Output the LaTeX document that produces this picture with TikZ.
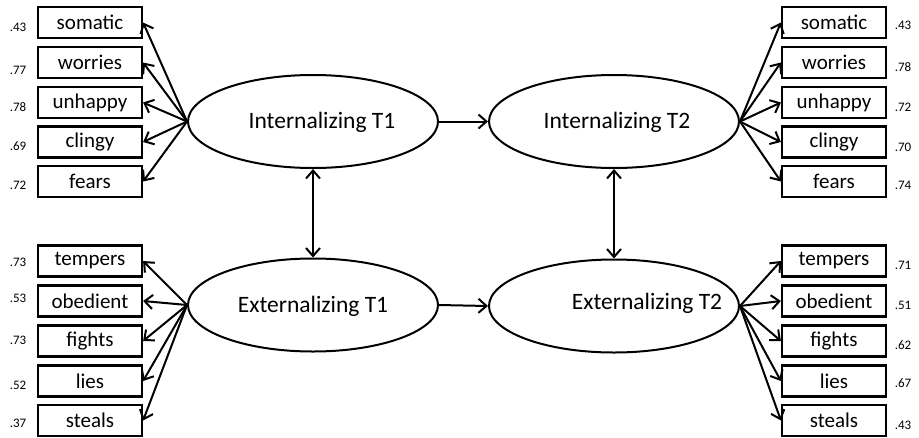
\documentclass[tikz,border=0pt]{standalone}
\usepackage{fontspec}
\setmainfont{Carlito}
\usetikzlibrary{shapes.geometric,arrows.meta}
\begin{document}
\begin{tikzpicture}[x=1pt,y=-1pt,
  ind/.style={draw, line width=2.2pt, minimum width=104pt, minimum height=31pt, inner sep=0pt, font=\fontsize{21}{24}\selectfont},
  lat/.style={draw, ellipse, line width=2pt, minimum width=250pt, minimum height=93pt, inner sep=0pt},
  lattext/.style={font=\fontsize{23.5}{27}\selectfont, inner sep=0pt},
  num/.style={font=\fontsize{13}{15}\selectfont, inner sep=0pt},
  arr/.style={line width=2pt, -{Straight Barb[length=8pt,width=14pt,line width=2pt]}},
  darr/.style={line width=2pt, {Straight Barb[length=8pt,width=14pt,line width=2pt]}-{Straight Barb[length=8pt,width=14pt,line width=2pt]}}]
\useasboundingbox (0,0) rectangle (919,437);
% latent variables
\node[lat] (i1) at (313,121.5) {};
\node[lattext] (i1t) at (322,122) {Internalizing T1};
\node[lat] (i2) at (614,121.5) {};
\node[lattext] (i2t) at (617,122) {Internalizing T2};
\node[lat] (e1) at (313,305) {};
\node[lattext] (e1t) at (313,306) {Externalizing T1};
\node[lat] (e2) at (614,306) {};
\node[lattext] (e2t) at (647,303) {Externalizing T2};
% left top indicators
\foreach \n/\t/\y/\v/\ly in {1/somatic/22.5/.43/27, 2/worries/62.5/.77/70, 3/unhappy/102.5/.78/107, 4/clingy/142/.69/146, 5/fears/181.5/.72/185}{
  \node[ind] (li\n) at (90,\y) {\t};
  \node[num] (lin\n) at (18,\ly) {\v};
  \draw[arr] (i1.west) -- (li\n.east);
}
% right top indicators
\foreach \n/\t/\y/\v/\ly in {1/somatic/22.5/.43/25, 2/worries/62.5/.78/67, 3/unhappy/102.5/.72/107, 4/clingy/142/.70/147, 5/fears/181.5/.74/185}{
  \node[ind] (ri\n) at (834,\y) {\t};
  \node[num] (rin\n) at (903,\ly) {\v};
  \draw[arr] (i2.east) -- (ri\n.west);
}
% left bottom indicators
\foreach \n/\t/\y/\v/\ly in {1/tempers/261/.73/262, 2/obedient/301/.53/298, 3/fights/341/.73/340, 4/lies/381/.52/385, 5/steals/420.5/.37/423}{
  \node[ind] (le\n) at (90,\y) {\t};
  \node[num] (len\n) at (18,\ly) {\v};
  \draw[arr] (e1.west) -- (le\n.east);
}
% right bottom indicators
\foreach \n/\t/\y/\v/\ly in {1/tempers/261/.71/265, 2/obedient/301/.51/305, 3/fights/341/.62/345, 4/lies/381/.67/383, 5/steals/420.5/.43/425}{
  \node[ind] (re\n) at (834,\y) {\t};
  \node[num] (ren\n) at (903,\ly) {\v};
  \draw[arr] (e2.east) -- (re\n.west);
}
% structural paths
\draw[arr] (i1.east) -- (i2.west);
\draw[arr] (e1.east) -- (e2.west);
\draw[darr] (i1.south) -- (e1.north);
\draw[darr] (i2.south) -- (e2.north);
\end{tikzpicture}
\end{document}
